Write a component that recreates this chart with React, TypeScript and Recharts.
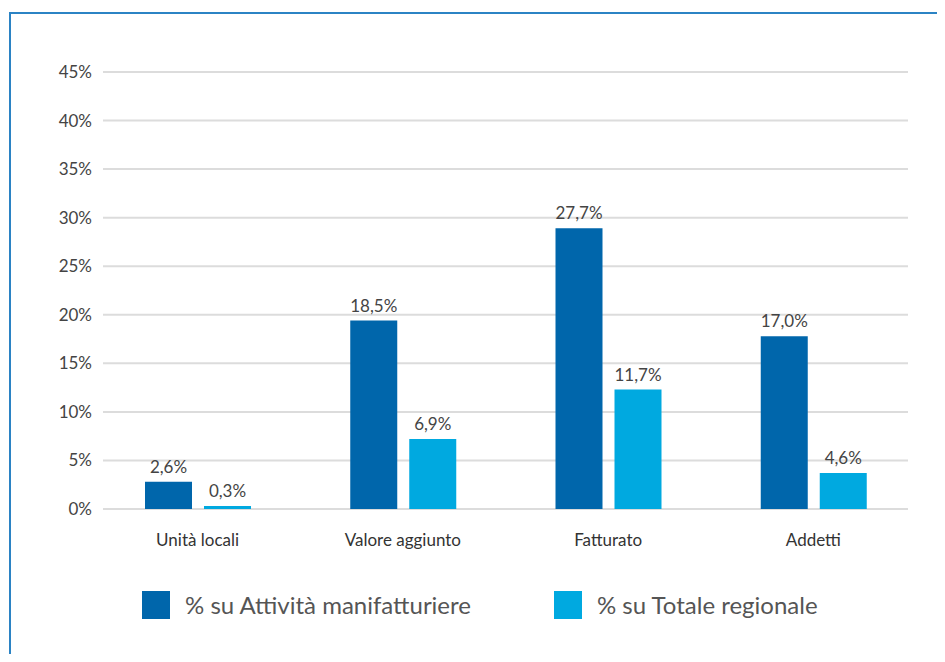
import { BarChart, Bar, XAxis, YAxis, CartesianGrid, LabelList } from 'recharts'

// values (bar heights), labels as printed
const CATEGORIES = ['Unità locali', 'Valore aggiunto', 'Fatturato', 'Addetti']
const MANIF = [2.8, 19.4, 28.9, 17.8]
const TOTALE = [0.3, 7.2, 12.3, 3.7]
const MANIF_LABELS = ['2,6%', '18,5%', '27,7%', '17,0%']
const TOTALE_LABELS = ['0,3%', '6,9%', '11,7%', '4,6%']
const Y_TICKS = [0, 5, 10, 15, 20, 25, 30, 35, 40, 45]

const SERIES = [
  { key: 'manif', name: '% su Attività manifatturiere', color: '#0066ab', labels: MANIF_LABELS },
  { key: 'totale', name: '% su Totale regionale', color: '#00a9e0', labels: TOTALE_LABELS },
]

const data = CATEGORIES.map((c, i) => ({ cat: c, manif: MANIF[i], totale: TOTALE[i] }))

const FONT = 'Lato, "Open Sans", sans-serif'

export default function App() {
  return (
    <div style={{ position: 'relative', width: 929, height: 646, fontFamily: FONT }}>
      {/* frame, only left and top edges are visible in the crop */}
      <div style={{
        position: 'absolute', left: 1, top: 4, width: 934, height: 648,
        borderLeft: '2px solid #2b83c4', borderTop: '2px solid #2b83c4',
      }} />
      <div style={{ position: 'absolute', left: -8, top: -8 }}>
        <BarChart width={945} height={662} data={data}
          margin={{ top: 72, right: 29, bottom: 123, left: 15 }}
          barSize={47} barGap={12}>
          <CartesianGrid vertical={false} x={103} width={805} stroke="#dcdcdc" strokeWidth={2} />
          <XAxis dataKey="cat" axisLine={false} tickLine={false} tickSize={0} tickMargin={25}
            tick={{ fontSize: 17, fill: '#333', fontFamily: FONT }} interval={0} />
          <YAxis width={80} domain={[0, 45]} ticks={Y_TICKS} axisLine={false} tickLine={false}
            tickSize={0} tickMargin={3} tickFormatter={(v) => `${v}%`}
            tick={{ fontSize: 17, fill: '#444', fontFamily: FONT }} />
          {SERIES.map((s) => (
            <Bar key={s.key} dataKey={s.key} name={s.name} fill={s.color} isAnimationActive={false}>
              <LabelList dataKey={s.key} position="top"
                content={(p: any) => (
                  <text x={p.x + p.width / 2} y={p.y - 9} textAnchor="middle"
                    fontSize={17} fill="#444" fontFamily={FONT}>
                    {s.labels[p.index]}
                  </text>
                )} />
            </Bar>
          ))}
        </BarChart>
      </div>
      <div style={{ position: 'absolute', left: 134, top: 582, display: 'flex', alignItems: 'center' }}>
        {SERIES.map((s, i) => (
          <div key={s.key} style={{ display: 'flex', alignItems: 'center', marginRight: i === 0 ? 83 : 0 }}>
            <span style={{ width: 28, height: 28, background: s.color, display: 'inline-block', marginRight: 15 }} />
            <span style={{ fontSize: 24, color: '#555', whiteSpace: 'nowrap' }}>{s.name}</span>
          </div>
        ))}
      </div>
    </div>
  )
}
